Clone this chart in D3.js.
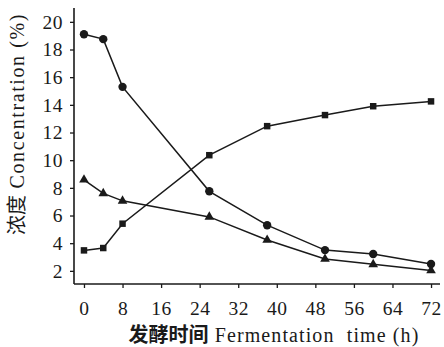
<!DOCTYPE html>
<html lang="zh">
<head>
<meta charset="UTF-8">
<title>Fermentation</title>
<script src="https://cdn.jsdelivr.net/npm/d3@7"></script>
<style>
  body { margin: 0; background: #fff; }
  text { font-family: "Liberation Serif", "Times New Roman", serif; }
</style>
</head>
<body>
<script>
// values
const hours = [0, 4, 8, 26, 38, 50, 60, 72];
const circleSeries = [19.1, 18.75, 15.3, 7.75, 5.3, 3.5, 3.22, 2.5];
const squareSeries = [3.48, 3.65, 5.41, 10.36, 12.46, 13.26, 13.9, 14.25];
const triangleSeries = [8.58, 7.6, 7.06, 5.9, 4.23, 2.86, 2.47, 2.03];
const xTicks = [0, 8, 16, 24, 32, 40, 48, 56, 64, 72];
const yTicks = [2, 4, 6, 8, 10, 12, 14, 16, 18, 20];

const width = 444, height = 347;
const ink = "#1a1a1a";

const svg = d3.select("body").append("svg")
  .attr("width", width)
  .attr("height", height);

const x = d3.scaleLinear([-2.07, 73.86], [74, 440]);
const y = d3.scaleLinear([1.05, 21], [284, 8]);

// axes
const xAxis = svg.append("g")
  .attr("transform", `translate(0,${y.range()[0]})`)
  .call(d3.axisBottom(x).tickValues(xTicks).tickSize(4).tickPadding(13));
const yAxis = svg.append("g")
  .attr("transform", `translate(${x.range()[0]},0)`)
  .call(d3.axisLeft(y).tickValues(yTicks).tickSize(4).tickPadding(7));

[xAxis, yAxis].forEach(g => {
  g.select(".domain").remove();
  g.selectAll("line").attr("stroke", ink).attr("stroke-width", 1.3);
  g.selectAll("text").attr("fill", ink).style("font-size", "19.5px")
    .style("font-family", "'Liberation Serif', serif")
    .style("letter-spacing", "0.5px");
});

svg.append("line")
  .attr("x1", x.range()[0]).attr("x2", x.range()[1])
  .attr("y1", y.range()[0]).attr("y2", y.range()[0])
  .attr("stroke", ink).attr("stroke-width", 1.6);
svg.append("line")
  .attr("x1", x.range()[0]).attr("x2", x.range()[0])
  .attr("y1", y.range()[0]).attr("y2", y.range()[1])
  .attr("stroke", ink).attr("stroke-width", 1.6);

// axis titles
svg.append("text")
  .attr("x", 274).attr("y", 342)
  .attr("text-anchor", "middle")
  .attr("fill", ink)
  .style("font-size", "20px")
  .html('<tspan style="font-family:\'Noto Sans CJK SC\';font-weight:bold">发酵时间</tspan>'
    + '<tspan style="letter-spacing:1.1px"> Fermentation&#160;&#160;time (h)</tspan>');

svg.append("text")
  .attr("transform", "translate(24,124) rotate(-90)")
  .attr("text-anchor", "middle")
  .attr("fill", ink)
  .style("font-size", "20px")
  .html('<tspan style="font-family:\'Noto Sans CJK SC\'">浓度</tspan>'
    + '<tspan style="letter-spacing:1.6px"> Concentration (%)</tspan>');

// lines and markers
const line = d3.line().x((d, i) => x(hours[i])).y(d => y(d));

const series = [
  { values: circleSeries, shape: d3.symbolCircle, size: 55 },
  { values: squareSeries, shape: d3.symbolSquare, size: 42 },
  { values: triangleSeries, shape: d3.symbolTriangle, size: 40 }
];

series.forEach(s => {
  svg.append("path")
    .attr("d", line(s.values))
    .attr("fill", "none")
    .attr("stroke", ink)
    .attr("stroke-width", 1.5);
  svg.append("g").selectAll("path")
    .data(s.values)
    .join("path")
    .attr("transform", (d, i) => `translate(${x(hours[i])},${y(d)})`)
    .attr("d", d3.symbol(s.shape, s.size))
    .attr("fill", ink);
});
</script>
</body>
</html>
